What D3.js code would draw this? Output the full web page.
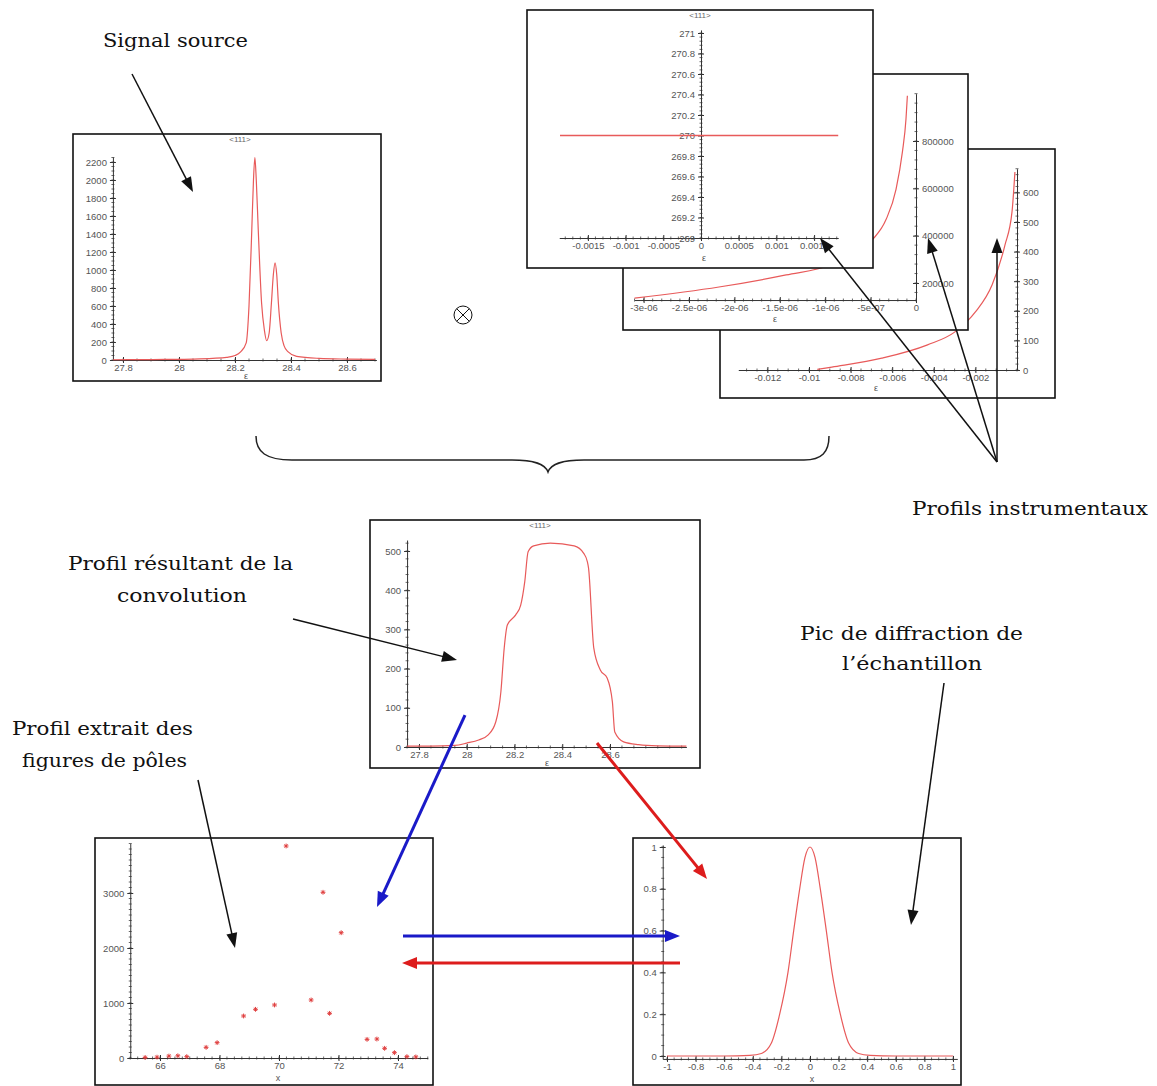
<!DOCTYPE html>
<html><head><meta charset="utf-8">
<script src="https://cdn.jsdelivr.net/npm/d3@7"></script>
<style>body{margin:0;background:#fff}svg{display:block}</style>
</head><body>
<svg id="c" width="1157" height="1086"></svg>
<script>
// ---------------- DATA ----------------
// Signal source
const signalEps = [27.764, 27.87, 27.95, 28.05, 28.12, 28.17, 28.20, 28.22, 28.24, 28.25, 28.26, 28.266, 28.271, 28.276, 28.283, 28.295, 28.305, 28.313, 28.322, 28.33, 28.337, 28.343, 28.349, 28.355, 28.365, 28.375, 28.39, 28.42, 28.5, 28.6, 28.7];
const signalInt = [3, 4, 6, 10, 18, 30, 50, 90, 190, 600, 1450, 2000, 2250, 2000, 1450, 630, 330, 215, 300, 630, 950, 1080, 950, 630, 300, 160, 90, 40, 18, 10, 6];
const signalXTicks = [27.8, 28, 28.2, 28.4, 28.6];
const signalYTicks = [0, 200, 400, 600, 800, 1000, 1200, 1400, 1600, 1800, 2000, 2200];

// Instrumental profile 1 (flat)
const flatEps = [-0.00187, 0.00182];
const flatVal = [270, 270];
const flatXTicks = [-0.0015, -0.001, -0.0005, 0, 0.0005, 0.001, 0.0015];
const flatXLabels = ["-0.0015", "-0.001", "-0.0005", "0", "0.0005", "0.001", "0.0015"];
const flatYTicks = [269, 269.2, 269.4, 269.6, 269.8, 270, 270.2, 270.4, 270.6, 270.8, 271];
const flatYLabels = ["269", "269.2", "269.4", "269.6", "269.8", "270", "270.2", "270.4", "270.6", "270.8", "271"];

// Instrumental profile 2 (steep)
const steepEps = [-3.1e-6, -2.17e-6, -1.43e-6, -0.93e-6, -0.70e-6, -0.48e-6, -0.33e-6, -0.22e-6, -0.15e-6, -0.11e-6, -0.095e-6];
const steepVal = [136000, 183000, 234000, 277000, 319000, 383000, 468000, 596000, 753000, 894000, 991000];
const steepXTicks = [-3e-6, -2.5e-6, -2e-6, -1.5e-6, -1e-6, -5e-7, 0];
const steepXLabels = ["-3e-06", "-2.5e-06", "-2e-06", "-1.5e-06", "-1e-06", "-5e-07", "0"];
const steepYTicks = [200000, 400000, 600000, 800000];

// Instrumental profile 3 (exponential-like)
const expEps = [-0.0096, -0.0089, -0.0065, -0.0043, -0.0030, -0.0020, -0.0012, -0.00058, -0.00024, -0.0001];
const expVal = [2, 10, 40, 85, 128, 196, 287, 422, 534, 669];
const expXTicks = [-0.012, -0.01, -0.008, -0.006, -0.004, -0.002];
const expXLabels = ["-0.012", "-0.01", "-0.008", "-0.006", "-0.004", "-0.002"];
const expYTicks = [0, 100, 200, 300, 400, 500, 600];

// Convolution result
const convEps = [27.75, 27.85, 27.95, 28.0, 28.05, 28.09, 28.122, 28.143, 28.157, 28.17, 28.205, 28.226, 28.243, 28.257, 28.28, 28.35, 28.45, 28.49, 28.505, 28.51, 28.532, 28.56, 28.588, 28.61, 28.62, 28.657, 28.72, 28.8, 28.92];
const convVal = [2, 2, 4, 10, 18, 31, 65, 141, 253, 311, 337, 362, 422, 498, 513, 520, 513, 494, 473, 457, 253, 196, 176, 115, 38, 13, 6, 3, 2];
const convXTicks = [27.8, 28, 28.2, 28.4, 28.6];
const convYTicks = [0, 100, 200, 300, 400, 500];

// Pole figure extracted profile
const poleX = [65.5, 65.9, 66.3, 66.6, 66.9, 67.55, 67.92, 68.81, 69.21, 69.85, 70.24, 71.08, 71.48, 71.70, 72.09, 72.96, 73.29, 73.55, 73.88, 74.3, 74.6];
const poleY = [10, 15, 35, 40, 25, 194, 279, 764, 885, 964, 3855, 1055, 3013, 812, 2278, 339, 345, 176, 97, 25, 20];
const poleXTicks = [66, 68, 70, 72, 74];
const poleYTicks = [0, 1000, 2000, 3000];

// Sample diffraction peak
const peakX = [-1.0, -0.6, -0.42, -0.34, -0.27, -0.212, -0.154, -0.114, -0.072, -0.035, 0, 0.035, 0.072, 0.114, 0.154, 0.212, 0.27, 0.34, 0.42, 0.6, 1.0];
const peakY = [0, 0, 0.003, 0.012, 0.062, 0.2, 0.4, 0.6, 0.8, 0.95, 1, 0.95, 0.8, 0.6, 0.4, 0.2, 0.062, 0.012, 0.003, 0, 0];
const peakXTicks = [-1, -0.8, -0.6, -0.4, -0.2, 0, 0.2, 0.4, 0.6, 0.8, 1];
const peakXLabels = ["-1", "-0.8", "-0.6", "-0.4", "-0.2", "0", "0.2", "0.4", "0.6", "0.8", "1"];
const peakYTicks = [0, 0.2, 0.4, 0.6, 0.8, 1];

// ---------------- DRAWING ----------------
const svg = d3.select('#c');
svg.append('rect').attr('width', 1157).attr('height', 1086).attr('fill', '#fff');

const LABEL_FONT = '"Liberation Sans", Arial, sans-serif';
const CURVE = '#e85a5a';

function range(a, b, s) { const r = []; for (let v = a; v <= b + s * 1e-6; v += s) r.push(+v.toPrecision(12)); return r; }

function panel(o) {
  const g = svg.append('g');
  g.append('rect').attr('x', o.box[0]).attr('y', o.box[1]).attr('width', o.box[2]).attr('height', o.box[3])
    .attr('fill', '#fff').attr('stroke', '#111').attr('stroke-width', 1.6);
  const xc = d3.scaleLinear().domain(o.xCal).range(o.xPix);
  const yc = d3.scaleLinear().domain(o.yCal).range(o.yPix);
  const x = d3.scaleLinear().domain(o.xExt).range(o.xExt.map(xc));
  const y = d3.scaleLinear().domain(o.yExt).range(o.yExt.map(yc));
  const xAxisY = y(o.xAxisAt), yAxisX = x(o.yAxisAt);

  // minor ticks
  const minX = range(Math.ceil(o.xExt[0] / o.xMinor) * o.xMinor, o.xExt[1], o.xMinor);
  const minY = range(Math.ceil(o.yExt[0] / o.yMinor) * o.yMinor, o.yExt[1], o.yMinor);
  g.append('g').selectAll('line').data(minX).join('line')
    .attr('x1', d => x(d)).attr('x2', d => x(d)).attr('y1', xAxisY - 1.5).attr('y2', xAxisY + 1.5)
    .attr('stroke', '#444').attr('stroke-width', 0.8);
  g.append('g').selectAll('line').data(minY).join('line')
    .attr('y1', d => y(d)).attr('y2', d => y(d)).attr('x1', yAxisX - 1.5).attr('x2', yAxisX + 1.5)
    .attr('stroke', '#444').attr('stroke-width', 0.8);

  const fmtX = o.xLabels ? ((d, i) => o.xLabels[i]) : (d => String(d));
  const fmtY = o.yLabels ? ((d, i) => o.yLabels[i]) : (d => String(d));

  const ax = g.append('g').attr('transform', `translate(0,${xAxisY})`)
    .call(d3.axisBottom(x).tickValues(o.xTicks).tickFormat(fmtX).tickSizeInner(3).tickSizeOuter(0).tickPadding(1));
  ax.selectAll('.tick line').attr('y1', -3).attr('y2', 3);
  const yAxisGen = o.ySide === 'right' ? d3.axisRight(y) : d3.axisLeft(y);
  const ay = g.append('g').attr('transform', `translate(${yAxisX},0)`)
    .call(yAxisGen.tickValues(o.yTicks).tickFormat(fmtY).tickSizeInner(3).tickSizeOuter(0).tickPadding(3));
  ay.selectAll('.tick line').attr('x1', -3).attr('x2', 3);
  [ax, ay].forEach(a => {
    a.select('.domain').attr('stroke', '#333').attr('stroke-width', 1);
    a.selectAll('.tick line').attr('stroke', '#333');
    a.selectAll('text').attr('font-family', LABEL_FONT).attr('font-size', 9.5).attr('fill', '#555');
  });

  if (o.title) g.append('text').attr('x', o.title[0]).attr('y', o.title[1]).attr('text-anchor', 'middle')
    .attr('font-family', LABEL_FONT).attr('font-size', 8).attr('fill', '#666').text('<111>');
  if (o.xTitle) g.append('text').attr('x', o.xTitle[0]).attr('y', o.xTitle[1]).attr('text-anchor', 'middle')
    .attr('font-family', LABEL_FONT).attr('font-size', 9).attr('fill', '#555').text(o.xTitleText || 'ε');

  if (o.line) {
    const pts = o.line[0].map((v, i) => [v, o.line[1][i]]);
    g.append('path').datum(pts)
      .attr('d', d3.line().x(d => x(d[0])).y(d => y(d[1])).curve(o.curve || d3.curveMonotoneX))
      .attr('fill', 'none').attr('stroke', CURVE).attr('stroke-width', o.lineWidth || 1.2);
  }
  if (o.points) {
    const pts = o.points[0].map((v, i) => [v, o.points[1][i]]);
    const s = 2.4;
    const pg = g.append('g').selectAll('g').data(pts).join('g')
      .attr('transform', d => `translate(${x(d[0])},${y(d[1])})`);
    pg.append('path').attr('d', `M${-s},0H${s}M0,${-s}V${s}M${-s * 0.7},${-s * 0.7}L${s * 0.7},${s * 0.7}M${-s * 0.7},${s * 0.7}L${s * 0.7},${-s * 0.7}`)
      .attr('stroke', '#e04040').attr('stroke-width', 1).attr('fill', 'none');
  }
}

// Signal source
panel({ box: [73, 134, 308, 247], xCal: [27.8, 28.6], xPix: [123, 347], yCal: [0, 2200], yPix: [360, 162],
  xExt: [27.764, 28.705], yExt: [0, 2255], xAxisAt: 0, yAxisAt: 27.764, ySide: 'left',
  xTicks: signalXTicks, yTicks: signalYTicks, xMinor: 0.05, yMinor: 50,
  title: [240, 142], xTitle: [246, 379], line: [signalEps, signalInt] });

// Instrumental profile 3 (back)
panel({ box: [720, 149, 335, 249], xCal: [-0.01, 0], xPix: [809, 1017], yCal: [0, 600], yPix: [370, 192.4],
  xExt: [-0.0134, 0], yExt: [0, 680], xAxisAt: 0, yAxisAt: 0, ySide: 'right',
  xTicks: expXTicks, xLabels: expXLabels, yTicks: expYTicks, xMinor: 0.0005, yMinor: 20,
  xTitle: [876, 391], line: [expEps, expVal] });

// Instrumental profile 2 (middle)
panel({ box: [623, 74, 345, 256], xCal: [-1e-6, 0], xPix: [825.2, 916], yCal: [200000, 800000], yPix: [283, 141],
  xExt: [-3.1e-6, 0], yExt: [128000, 1000000], xAxisAt: 128000, yAxisAt: 0, ySide: 'right',
  xTicks: steepXTicks, xLabels: steepXLabels, yTicks: steepYTicks, xMinor: 1e-7, yMinor: 40000,
  xTitle: [775, 322], line: [steepEps, steepVal] });

// Instrumental profile 1 (front)
panel({ box: [527, 10, 346, 258], xCal: [-0.001, 0.001], xPix: [625.6, 776.4], yCal: [269, 271], yPix: [238, 33],
  xExt: [-0.00188, 0.00182], yExt: [269, 271.03], xAxisAt: 269, yAxisAt: 0, ySide: 'left',
  xTicks: flatXTicks, xLabels: flatXLabels, yTicks: flatYTicks, yLabels: flatYLabels, xMinor: 0.0001, yMinor: 0.04,
  title: [700, 18], xTitle: [704, 261], line: [flatEps, flatVal], curve: d3.curveLinear, lineWidth: 1.6 });

// Convolution
panel({ box: [370, 520, 330, 248], xCal: [27.8, 28.6], xPix: [419, 610], yCal: [0, 500], yPix: [747, 551],
  xExt: [27.75, 28.92], yExt: [0, 528], xAxisAt: 0, yAxisAt: 27.75, ySide: 'left',
  xTicks: convXTicks, yTicks: convYTicks, xMinor: 0.05, yMinor: 20,
  title: [540, 528], xTitle: [547, 766], line: [convEps, convVal] });

// Pole figure profile
panel({ box: [95, 838, 338, 247], xCal: [66, 74], xPix: [160, 398], yCal: [0, 3000], yPix: [1058, 893],
  xExt: [65, 75], yExt: [0, 3900], xAxisAt: 0, yAxisAt: 65, ySide: 'left',
  xTicks: poleXTicks, yTicks: poleYTicks, xMinor: 0.25, yMinor: 100,
  xTitle: [278, 1081], xTitleText: 'x', points: [poleX, poleY] });

// Sample diffraction peak
panel({ box: [633, 838, 328, 247], xCal: [-1, 1], xPix: [667, 953], yCal: [0, 1], yPix: [1056, 847],
  xExt: [-1.03, 1.03], yExt: [-0.014, 1.01], xAxisAt: -0.014, yAxisAt: -1.03, ySide: 'left',
  xTicks: peakXTicks, xLabels: peakXLabels, yTicks: peakYTicks, xMinor: 0.05, yMinor: 0.05,
  xTitle: [812, 1082], xTitleText: 'x', line: [peakX, peakY] });

// ---------------- ANNOTATIONS ----------------
const SERIF = '"DejaVu Serif", "Liberation Serif", serif';
function label(t, x1, x2, base) {
  svg.append('text').attr('x', x1).attr('y', base).attr('font-family', SERIF).attr('font-size', 18)
    .attr('fill', '#111').attr('textLength', x2 - x1).attr('lengthAdjust', 'spacingAndGlyphs').text(t);
}
label('Signal source', 103, 248, 47);
label('Profil résultant de la', 68, 293, 570);
label('convolution', 117, 247, 602);
label('Profil extrait des', 12, 193, 735);
label('figures de pôles', 22, 187, 767);
label('Profils instrumentaux', 912, 1148, 515);
label('Pic de diffraction de', 800, 1023, 640);
label('l’échantillon', 842, 982, 670);

function arrow(x1, y1, x2, y2, color, w, hl, hw) {
  const a = Math.atan2(y2 - y1, x2 - x1);
  const bx = x2 - hl * Math.cos(a), by = y2 - hl * Math.sin(a);
  svg.append('line').attr('x1', x1).attr('y1', y1).attr('x2', bx + Math.cos(a)).attr('y2', by + Math.sin(a))
    .attr('stroke', color).attr('stroke-width', w);
  const px = Math.sin(a) * hw / 2, py = -Math.cos(a) * hw / 2;
  svg.append('path').attr('d', `M${x2},${y2}L${bx + px},${by + py}L${bx - px},${by - py}Z`).attr('fill', color);
}
// black arrows
arrow(132, 74, 193, 192, '#111', 1.5, 15, 11);
arrow(293, 619, 457, 660, '#111', 1.5, 15, 11);
arrow(198, 780, 235, 948, '#111', 1.5, 15, 11);
arrow(944, 683, 911, 925, '#111', 1.5, 15, 11);
arrow(997, 462, 820, 238, '#111', 1.5, 15, 11);
arrow(997, 462, 928, 238, '#111', 1.5, 15, 11);
arrow(997, 462, 997, 238, '#111', 1.5, 15, 11);
// coloured arrows
arrow(465, 715, 377, 907, '#1a1ac8', 3, 15, 12);
arrow(597, 743, 707, 879, '#dd1c1c', 3, 15, 12);
arrow(403, 936, 680, 936, '#1a1ac8', 3, 15, 12);
arrow(680, 963, 402, 963, '#dd1c1c', 3, 15, 12);

// brace
svg.append('path')
  .attr('d', 'M256,436 C256,452 266,460 292,460 L512,460 C535,460 545,464 548,472 C551,464 561,460 584,460 L804,460 C822,460 829,452 829,436')
  .attr('fill', 'none').attr('stroke', '#222').attr('stroke-width', 1.5);

// convolution symbol
const ox = 463, oy = 315, orr = 9;
svg.append('circle').attr('cx', ox).attr('cy', oy).attr('r', orr).attr('fill', 'none').attr('stroke', '#111').attr('stroke-width', 1);
svg.append('path').attr('d', `M${ox - orr * 0.707},${oy - orr * 0.707}L${ox + orr * 0.707},${oy + orr * 0.707}M${ox - orr * 0.707},${oy + orr * 0.707}L${ox + orr * 0.707},${oy - orr * 0.707}`)
  .attr('stroke', '#111').attr('stroke-width', 1);
</script>
</body></html>
